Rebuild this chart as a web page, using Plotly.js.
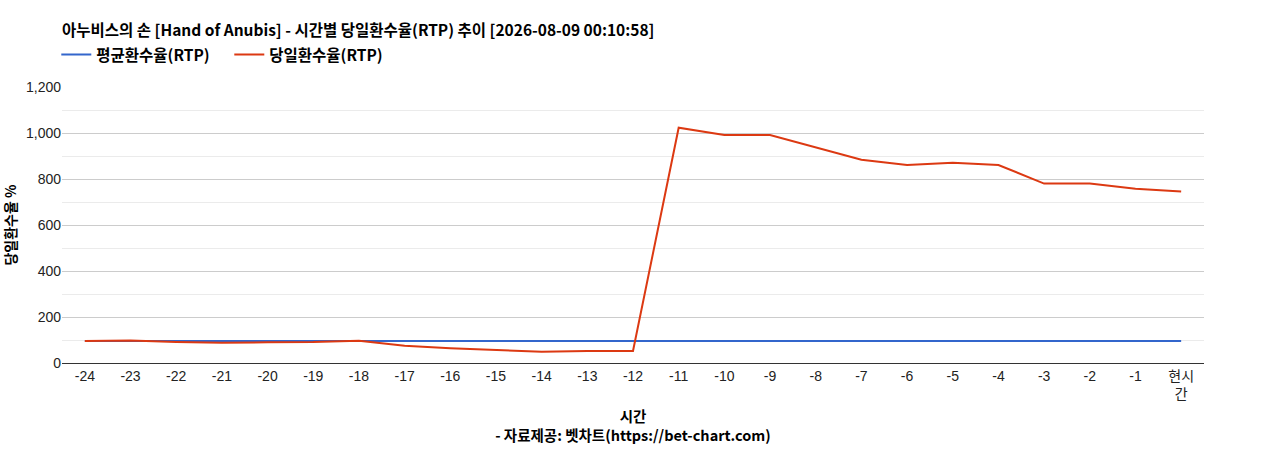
<!DOCTYPE html>
<html>
<head>
<meta charset="utf-8">
<script src="https://cdn.plot.ly/plotly-3.0.1.min.js"></script>
<style>html,body{margin:0;padding:0;background:#fff;}#chart{width:1268px;height:450px;}</style>
</head>
<body>
<div id="chart"></div>
<script>
const categories = ['-24','-23','-22','-21','-20','-19','-18','-17','-16','-15','-14','-13','-12','-11','-10','-9','-8','-7','-6','-5','-4','-3','-2','-1','현시<br>간'];
const avgRtp = [96,96,96,96,96,96,96,96,96,96,96,96,96,96,96,96,96,96,96,96,96,96,96,96,96];
const dayRtp = [96,98,91,88,90,91,97,75,64,57,49,52,52,1023,991,991,938,884,861,871,861,780,780,758,746];
const seriesNames = ['평균환수율(RTP)','당일환수율(RTP)'];
const titleText = '아누비스의 손 [Hand of Anubis] - 시간별 당일환수율(RTP) 추이 [2026-08-09 00:10:58]';

const FONT = '"Liberation Sans", "Noto Sans CJK KR", Arial, sans-serif';
const KFONT = '"Noto Sans CJK KR", "Liberation Sans", sans-serif';

const traces = [
  {x: categories, y: avgRtp, name: seriesNames[0], type: 'scatter', mode: 'lines',
   line: {color: '#3366cc', width: 2}},
  {x: categories, y: dayRtp, name: seriesNames[1], type: 'scatter', mode: 'lines',
   line: {color: '#dc3912', width: 2}}
];

const layout = {
  width: 1268, height: 450,
  margin: {l: 62, r: 64, t: 87, b: 87},
  paper_bgcolor: '#fff', plot_bgcolor: '#fff',
  font: {family: FONT, size: 14, color: '#222'},
  title: {text: '<b>' + titleText + '</b>', x: 0, xref: 'paper', xanchor: 'left',
          y: 1 - 31/450, yref: 'container', yanchor: 'middle',
          font: {family: KFONT, size: 15.5, color: '#000'}},
  showlegend: true,
  legend: {orientation: 'h', x: -0.005, xanchor: 'left', y: 1 - 55/450, yref: 'container', yanchor: 'middle',
           font: {family: KFONT, size: 15.5, color: '#000', weight: 'bold'},
           entrywidth: 128, entrywidthmode: 'pixels', tracegroupgap: 0},
  xaxis: {type: 'category', range: [-0.5, 24.5], showgrid: false, zeroline: false,
          showline: true, linecolor: '#333', linewidth: 1, ticks: '',
          tickfont: {family: FONT, size: 14, color: '#222'},
          automargin: false,
          title: {text: '<b>시간</b><br><b>- 자료제공: 벳차트(https://bet-chart.com)</b>', standoff: 10,
                  font: {family: KFONT, size: 14.5, color: '#000'}}},
  yaxis: {range: [0, 1200], dtick: 200, tickformat: ',d', showgrid: true, gridcolor: '#cccccc',
          zeroline: false, showline: false, ticks: '', automargin: false,
          minor: {dtick: 100, showgrid: true, gridcolor: '#ebebeb', ticks: ''},
          tickfont: {family: FONT, size: 14, color: '#222'},
          title: {text: '<b>당일환수율 %</b>', standoff: 12,
                  font: {family: KFONT, size: 14, color: '#000'}}}
};

Plotly.newPlot('chart', traces, layout, {displayModeBar: false, staticPlot: true});
</script>
</body>
</html>
